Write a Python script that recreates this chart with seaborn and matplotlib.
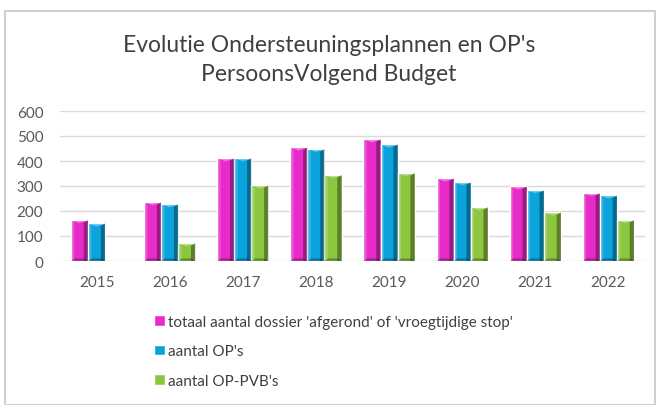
import matplotlib
matplotlib.use("Agg")
import matplotlib.pyplot as plt
import seaborn as sns
import pandas as pd
from matplotlib.patches import Rectangle, Polygon

years = ["2015", "2016", "2017", "2018", "2019", "2020", "2021", "2022"]
series_names = ["totaal aantal dossier 'afgerond' of 'vroegtijdige stop'",
                "aantal OP's",
                "aantal OP-PVB's"]
totaal = [165, 236, 412, 455, 488, 331, 299, 272]
aantal_ops = [151, 228, 412, 449, 467, 316, 284, 263]
aantal_pvb = [0, 72, 304, 345, 353, 216, 195, 165]
colors = ["#E82BC8", "#0AA3DC", "#8DC63F"]
title = "Evolutie Ondersteuningsplannen en OP's\nPersoonsVolgend Budget"

rows = []
for name, vals in zip(series_names, [totaal, aantal_ops, aantal_pvb]):
    for y, v in zip(years, vals):
        rows.append({"jaar": y, "reeks": name, "waarde": v})
df = pd.DataFrame(rows)

sns.set_theme(style="white")
plt.rcParams["font.family"] = ["Lato", "DejaVu Sans"]

fig = plt.figure(figsize=(6.58, 4.06), dpi=100)
fig.patches.append(Rectangle((5/658, 0), 650/658, 1 - 12/406, transform=fig.transFigure,
                             fill=False, edgecolor="#D0D0D0", linewidth=1.5, zorder=0))
ax = fig.add_axes([60/658, 1 - 262/406, 585/658, 150/406])

sns.barplot(data=df, x="jaar", y="waarde", hue="reeks", palette=colors,
            width=0.7, gap=0, ax=ax, legend=True, saturation=1, zorder=3)

# bevel shading derived from each bar's own geometry
for p in list(ax.patches):
    h = p.get_height()
    if h <= 0:
        continue
    x0, w, y0 = p.get_x(), p.get_width(), p.get_y()
    b = min(w * 0.25, h / 2)
    d = ax.transData
    # right side darker
    ax.add_patch(Polygon([(x0 + w - w*0.25, y0 + b*0 + 0), (x0 + w, y0), (x0 + w, y0 + h),
                          (x0 + w - w*0.25, y0 + h - 12)], closed=True,
                         facecolor="black", alpha=0.35, linewidth=0, zorder=4))
    # left side lighter
    ax.add_patch(Polygon([(x0, y0), (x0 + w*0.2, y0), (x0 + w*0.2, y0 + h - 12), (x0, y0 + h)],
                         closed=True, facecolor="white", alpha=0.18, linewidth=0, zorder=4))
    # bottom dark
    ax.add_patch(Polygon([(x0, y0), (x0 + w, y0), (x0 + w*0.75, y0 + 10), (x0 + w*0.2, y0 + 10)],
                         closed=True, facecolor="black", alpha=0.3, linewidth=0, zorder=4))
    # top bevel light
    ax.add_patch(Polygon([(x0, y0 + h), (x0 + w, y0 + h), (x0 + w*0.5, y0 + h - 14)],
                         closed=True, facecolor="white", alpha=0.3, linewidth=0, zorder=4))

ax.set_ylim(0, 600)
ax.set_yticks(range(0, 601, 100))
ax.set_xlim(-0.5, 7.5)
ax.grid(axis="y", color="#D9D9D9", linewidth=1, zorder=0)
ax.set_axisbelow(True)
for s in ax.spines.values():
    s.set_visible(False)
ax.set_xlabel("")
ax.set_ylabel("")
ax.tick_params(axis="both", labelsize=11, colors="#595959", length=0)
ax.tick_params(axis="x", pad=10)
ax.tick_params(axis="y", pad=12)

handles, labels = ax.get_legend_handles_labels()
ax.get_legend().remove()
fig.legend(handles, labels, loc="upper left", bbox_to_anchor=(148/658, 1 - 310/406),
           frameon=False, fontsize=11, labelcolor="#404040", handlelength=0.7,
           handleheight=0.7, handletextpad=0.2, labelspacing=1.0, borderaxespad=0)

fig.text(0.5, 1 - 60/406, title, ha="center", va="center", fontsize=16.5,
         color="#404040", linespacing=1.45)

fig.savefig("out.png", dpi=100)
